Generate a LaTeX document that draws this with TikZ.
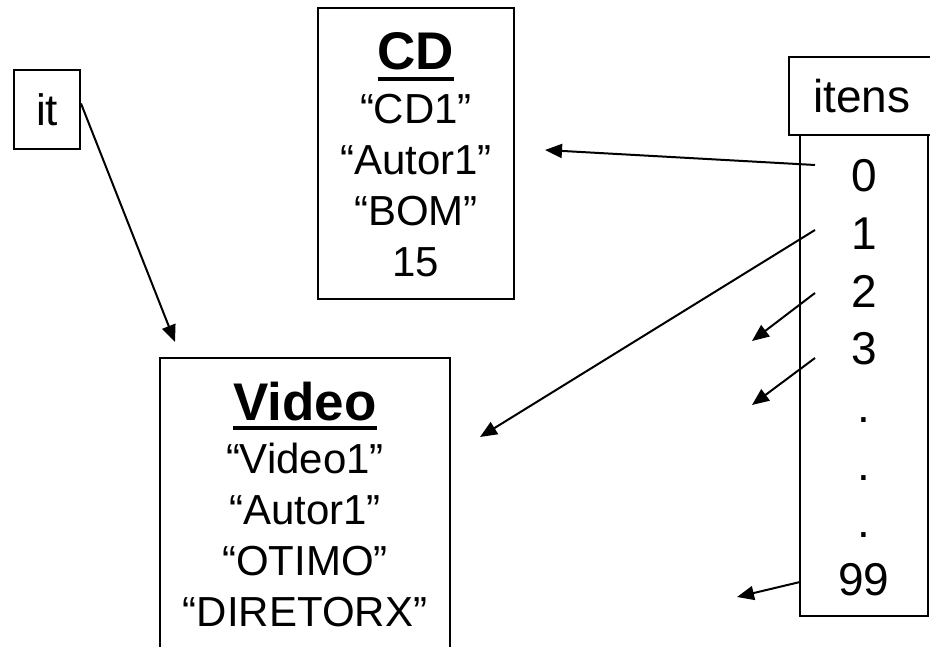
\documentclass[tikz,border=0pt]{standalone}
\usepackage{fontspec}
\setmainfont{Liberation Sans}
\usetikzlibrary{arrows.meta,calc}

\begin{document}
\begin{tikzpicture}[x=1pt,y=-1pt,color=black,
  box/.style={draw,line width=2pt,inner sep=0pt},
  attr/.style={inner sep=0pt,anchor=base,font=\fontsize{42}{50}\selectfont},
  cell/.style={inner sep=0pt,anchor=base,font=\fontsize{46}{54}\selectfont},
  title/.style={inner sep=0pt,anchor=base,font=\fontsize{53}{60}\selectfont\bfseries},
  ptr/.style={line width=2pt,-{Triangle[length=17pt,width=14pt]}}]
\useasboundingbox (0,0) rectangle (930,647);

\node[box,minimum width=66,minimum height=79,font=\fontsize{44}{50}\selectfont] (it) at (47,109.5){it};

% objeto CD
\node[box,minimum width=196,minimum height=291] (CD) at (416,153.5){};
\node[title] (CDt) at (416,70){CD};
\draw[line width=4.5pt] ($(CDt.base west)+(0,9)$) -- ($(CDt.base east)+(0,9)$);
\foreach \i/\t in {0/“CD1”,1/“Autor1”,2/“BOM”,3/15}
{
\node[attr] (CDa\i) at (416,124+51*\i){\t};
}

% objeto Video
\node[box,minimum width=290,minimum height=320] (V) at (305,518){};
\node[title] (Vt) at (305,420){Video};
\draw[line width=4.5pt] ($(Vt.base west)+(0,8)$) -- ($(Vt.base east)+(0,8)$);
\foreach \i/\t in {0/“Video1”,1/“Autor1”,2/“OTIMO”,3/“DIRETORX”}
{
\node[attr] (Va\i) at (305,473+51*\i){\t};
}

% vetor itens
\node[box,minimum width=146,minimum height=78,font=\fontsize{46}{54}\selectfont] (itens) at (862,96){itens};
\node[box,minimum width=128,minimum height=481] (arr) at (864,375.5){};
\foreach \i/\v in {0/0,1/1,2/2,3/3,4/.,5/.,6/.,7/99}
{
\node[cell] (a\i) at (864,192+57.6*\i){\v};
}

% ponteiros
\coordinate (it1) at (175,342);
\draw[ptr] ([yshift=6pt]it.east) -- (it1);

\foreach \i/\sx/\sy/\ex/\ey in {0/815/165/545/150,1/815/230/480/437,2/815/293/752/341,3/815/358/752/405,7/800/582/737/597}
{
\coordinate (s\i) at (\sx,\sy);
\coordinate (e\i) at (\ex,\ey);
\draw[ptr] (s\i) -- (e\i);
}

\end{tikzpicture}
\end{document}
